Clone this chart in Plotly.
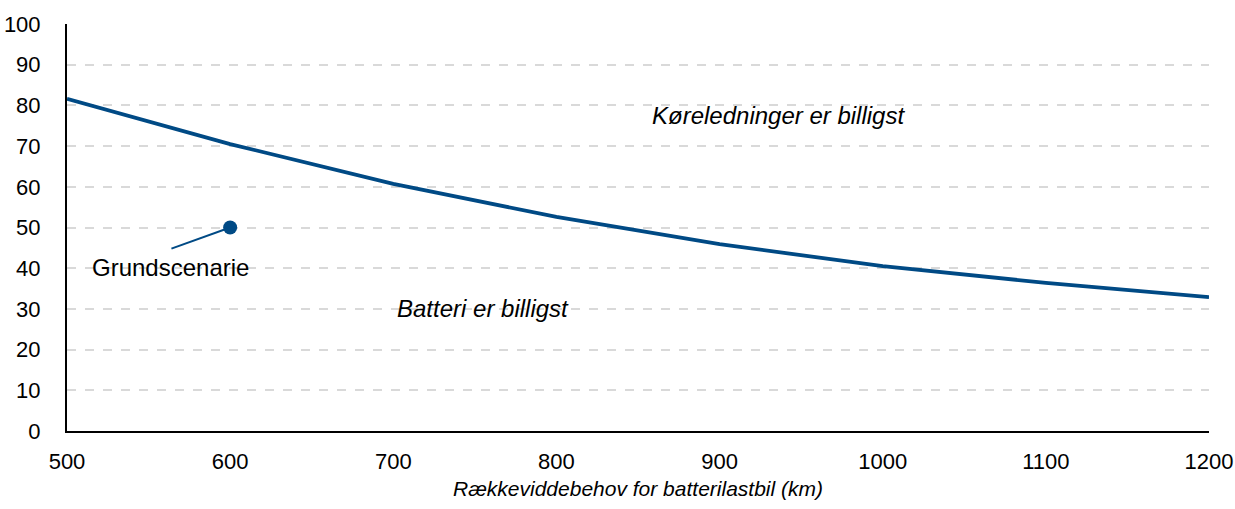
import plotly.graph_objects as go

# Data
range_km = [500, 600, 700, 800, 900, 1000, 1100, 1200]
threshold = [81.6, 70.5, 60.7, 52.6, 45.9, 40.5, 36.4, 32.9]
base_x = [600]
base_y = [50]
x_ticks = [500, 600, 700, 800, 900, 1000, 1100, 1200]
y_ticks = [0, 10, 20, 30, 40, 50, 60, 70, 80, 90, 100]

navy = "#004a85"
font = "Liberation Sans, Arial, sans-serif"

fig = go.Figure()
# leader line for base scenario label (offset in data units from the point)
lead_dx, lead_dy = -36, -5.2
fig.add_trace(go.Scatter(x=[base_x[0] + lead_dx, base_x[0]], y=[base_y[0] + lead_dy, base_y[0]],
                         mode="lines", line=dict(color=navy, width=2), hoverinfo="skip", showlegend=False))
fig.add_trace(go.Scatter(x=range_km, y=threshold, mode="lines",
                         line=dict(color=navy, width=3.8), showlegend=False))
fig.add_trace(go.Scatter(x=base_x, y=base_y, mode="markers",
                         marker=dict(color=navy, size=14), showlegend=False))

fig.add_annotation(x=base_x[0], y=base_y[0], text="Grundscenarie", showarrow=False,
                   xshift=-59.5, yshift=-40, font=dict(size=24, color="#000000", family=font))
fig.add_annotation(x=936, y=77.4, text="<i>Køreledninger er billigst</i>", showarrow=False,
                   xref="x", yref="y", font=dict(size=24, color="#000000", family=font))
fig.add_annotation(x=755, y=30.0, text="<i>Batteri er billigst</i>", showarrow=False,
                   xref="x", yref="y", font=dict(size=24, color="#000000", family=font))

fig.update_layout(
    width=1235, height=509,
    margin=dict(l=67, r=26, t=24, b=78),
    plot_bgcolor="white", paper_bgcolor="white",
    font=dict(family=font, size=22, color="#000000"),
    xaxis=dict(range=[500, 1200], tickvals=x_ticks, showgrid=False, zeroline=False,
               showline=True, linecolor="#000000", linewidth=2, ticks="",
               ticklabelstandoff=10, automargin=False,
               title=dict(text="<i>Rækkeviddebehov for batterilastbil (km)</i>",
                          font=dict(size=21), standoff=8)),
    yaxis=dict(range=[0, 100], tickvals=y_ticks, showgrid=True, gridcolor="#d9d9d9",
               griddash="dash", gridwidth=1.5, zeroline=False,
               showline=True, linecolor="#000000", linewidth=2, ticks="",
               ticklabelstandoff=20, automargin=False),
)

fig.write_html("out.html", config={"displayModeBar": False},
               post_script="document.body.style.margin='0px';document.body.style.overflow='hidden';")
